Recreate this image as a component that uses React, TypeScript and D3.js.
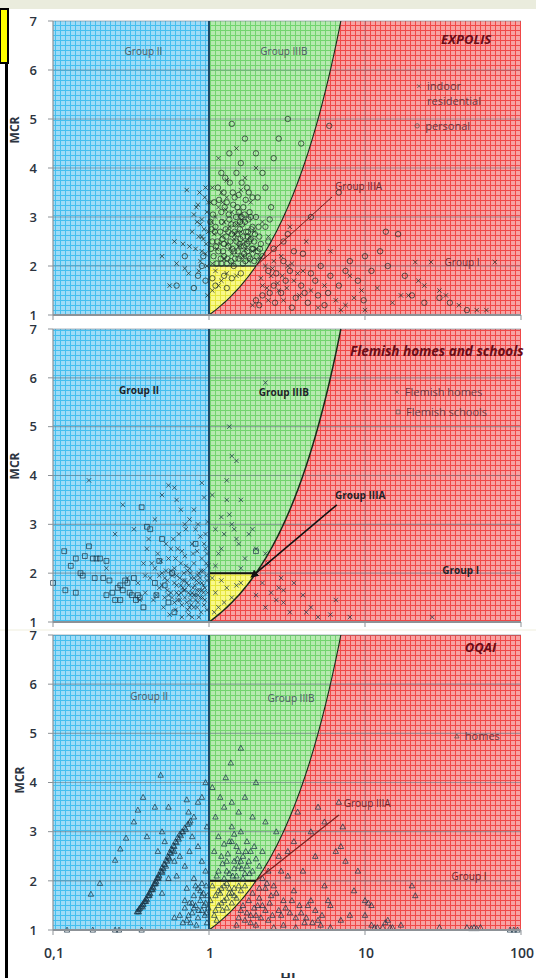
import React from 'react';
import * as d3 from 'd3';

type Pt = [number, number];

// axis ticks
const xTicks = [0.1, 1, 10, 100];
const xTickLabels = ['0,1', '1', '10', '100'];
const yTicks = [1, 2, 3, 4, 5, 6, 7];

// EXPOLIS (HI, MCR)
const expolisIndoor: Pt[] = [
  [0.72, 3.55], [0.85, 3.25], [0.83, 3.2], [0.8, 3.05], [0.9, 2.95], [0.88, 2.85], [0.93, 2.75], [0.6, 2.5], [0.68, 2.45],
  [0.75, 2.4], [0.82, 2.35], [0.9, 2.3], [0.95, 2.25], [0.62, 2.05], [0.7, 1.95], [0.74, 1.85], [0.56, 1.6], [0.86, 2.6],
  [0.92, 2.55], [0.97, 3.1], [0.97, 2.0], [0.98, 1.4], [0.78, 2.7], [0.88, 2.1], [0.5, 2.2], [0.94, 3.4], [0.86, 1.9],
  [1.05, 3.6], [1.2, 3.5], [1.3, 3.4], [1.15, 3.2], [1.4, 3.1], [1.1, 3.0], [1.25, 2.9], [1.5, 2.85], [1.35, 2.8],
  [1.6, 2.7], [1.08, 2.65], [1.2, 2.6], [1.45, 2.55], [1.7, 2.5], [1.3, 2.45], [1.55, 2.4], [1.12, 2.35], [1.9, 2.3],
  [1.4, 2.25], [1.65, 2.2], [1.25, 2.15], [1.8, 2.1], [1.05, 2.05], [2.1, 2.15], [1.5, 4.4], [2.0, 4.0], [1.7, 3.8],
  [1.85, 3.3], [2.2, 2.9], [1.3, 3.75], [2.4, 2.6], [1.15, 4.2], [1.6, 3.55], [1.95, 2.7],
  [1.04, 2.9], [1.18, 2.45], [1.28, 3.15], [1.37, 2.35], [1.47, 2.65], [1.58, 3.05], [1.72, 2.35], [1.83, 2.6],
  [2.0, 2.35], [1.22, 3.3], [1.42, 2.05], [1.62, 2.95], [1.02, 3.3], [0.99, 2.7], [0.96, 2.45], [0.9, 2.6], [0.84, 2.9],
  [0.99, 3.3], [0.95, 3.6], [0.87, 3.5],
  [1.1, 1.9], [1.3, 1.85], [1.2, 1.7], [1.5, 1.8], [1.05, 1.5], [1.15, 1.6],
  [2.3, 2.0], [2.6, 2.1], [2.9, 2.2], [2.5, 1.8], [3.2, 2.0], [3.5, 1.7], [2.2, 1.6], [4.0, 1.9], [2.8, 1.5], [4.5, 1.5],
  [3.0, 1.3], [5.5, 1.6], [6.5, 1.3], [7.5, 1.2], [5.0, 1.15], [8.5, 1.35], [9.5, 1.5], [12, 1.55], [15, 1.25], [17, 1.4],
  [19, 1.4], [21, 2.08], [26.5, 2.08], [68, 2.08], [22, 1.7], [24, 1.6], [30, 1.5], [33, 1.4], [40, 1.2], [52, 1.1],
  [60, 1.1], [10, 1.1], [7, 1.1], [3.8, 1.4], [2.4, 1.3], [1.9, 1.2], [6, 2.3], [8, 1.8], [4.2, 2.5], [3.3, 2.8],
  [2.15, 1.75], [2.35, 1.55], [2.55, 1.95], [2.75, 1.65], [2.95, 1.8], [3.15, 1.55], [3.4, 2.05], [3.7, 1.85]
];
const expolisPersonal: Pt[] = [
  [1.05, 2.5], [1.1, 2.8], [1.15, 2.3], [1.2, 3.1], [1.22, 2.55], [1.25, 2.2], [1.28, 2.75], [1.3, 3.3], [1.33, 2.4],
  [1.35, 2.95], [1.38, 2.1], [1.4, 2.65], [1.42, 3.5], [1.45, 2.3], [1.48, 2.85], [1.5, 2.5], [1.52, 3.2], [1.55, 2.15],
  [1.58, 2.75], [1.6, 2.4], [1.62, 3.0], [1.65, 2.6], [1.68, 2.25], [1.7, 2.9], [1.72, 3.35], [1.75, 2.45], [1.78, 2.7],
  [1.8, 2.2], [1.82, 3.1], [1.85, 2.55], [1.88, 2.35], [1.9, 2.8], [1.95, 2.5], [2.0, 3.0], [2.05, 2.3], [2.1, 2.6],
  [2.15, 2.45], [2.2, 2.2], [2.3, 2.8], [2.4, 2.5], [2.5, 3.2], [1.08, 3.3], [1.12, 2.05], [1.18, 2.7], [1.24, 3.5],
  [1.3, 2.05], [1.36, 3.7], [1.44, 2.0], [1.5, 3.9], [1.6, 4.1], [1.75, 3.6], [1.9, 3.4], [2.0, 4.3], [2.3, 3.6],
  [2.6, 4.2], [3.2, 5.0], [2.8, 4.6], [1.2, 3.9], [1.35, 4.3], [1.7, 4.6], [1.4, 4.9], [2.2, 3.9], [1.55, 3.45],
  [1.65, 2.05], [1.95, 2.1], [2.45, 2.95], [1.02, 2.9], [1.07, 2.2], [1.58, 2.9], [1.85, 3.0], [1.25, 2.45], [1.46, 2.7],
  [1.66, 3.2], [5.9, 4.86], [3.9, 4.5],
  [1.03, 2.35], [1.06, 3.05], [1.09, 2.7], [1.13, 2.5], [1.16, 3.35], [1.19, 2.15], [1.21, 2.9], [1.23, 2.3],
  [1.26, 3.2], [1.29, 2.6], [1.31, 2.15], [1.34, 3.05], [1.37, 2.5], [1.39, 2.85], [1.41, 2.35], [1.43, 3.25],
  [1.47, 2.15], [1.49, 3.0], [1.51, 2.65], [1.53, 2.3], [1.56, 3.1], [1.59, 2.55], [1.61, 2.2], [1.63, 2.85],
  [1.67, 2.4], [1.69, 3.05], [1.71, 2.1], [1.73, 2.7], [1.76, 2.3], [1.79, 2.95], [1.81, 2.5], [1.84, 2.15],
  [1.87, 2.75], [1.92, 2.35], [1.97, 2.65], [2.02, 2.2], [2.08, 2.8], [2.12, 2.35], [1.14, 3.6], [1.27, 3.8],
  [1.46, 3.4], [1.62, 3.7], [1.8, 3.5], [2.05, 3.4], [1.11, 2.4], [1.33, 2.7], [1.57, 2.45], [1.77, 2.6], [1.04, 2.75],
  [1.2, 2.05],
  [0.62, 1.6], [0.8, 1.55], [0.85, 1.8], [0.9, 2.0], [0.95, 1.7], [0.92, 2.2], [0.7, 2.2],
  [1.1, 1.6], [1.4, 1.75], [1.25, 1.8], [1.6, 1.85], [1.05, 1.75], [1.3, 1.55],
  [2.4, 1.9], [2.7, 1.85], [3.0, 2.1], [3.5, 2.3], [3.3, 1.9], [2.6, 1.6], [3.9, 1.6], [4.5, 1.85], [5.2, 2.0],
  [4.0, 2.25], [2.9, 1.45], [3.6, 1.35], [4.3, 1.25], [5.0, 1.4], [6.0, 1.8], [6.8, 1.6], [7.5, 1.9], [8.0, 2.1],
  [9.0, 1.7], [10, 2.2], [11, 1.9], [12.5, 2.3], [13.6, 2.7], [16.3, 2.65], [14, 2.0], [18, 1.8], [20, 1.4], [30, 1.35],
  [35, 1.25], [45, 1.1], [3.0, 2.5], [2.6, 2.35], [3.2, 2.65], [4.5, 3.0], [6.8, 3.5], [5.5, 1.2], [2.2, 1.4],
  [2.0, 1.3], [9.8, 1.3], [24, 1.25], [2.45, 1.45], [2.65, 1.25], [3.1, 1.7], [4.8, 1.7], [5.8, 1.45], [4.1, 1.45],
  [3.4, 1.15], [2.1, 1.2]
];

// Flemish homes and schools
const flemishHomes: Pt[] = [
  [0.17, 3.9], [0.28, 3.4], [0.33, 2.9], [0.4, 2.5], [0.45, 3.1], [0.5, 3.6], [0.55, 3.8], [0.6, 3.75], [0.62, 3.5],
  [0.66, 3.3], [0.7, 3.0], [0.75, 3.1], [0.8, 3.3], [0.85, 3.0], [0.9, 3.85], [0.93, 3.55], [0.95, 2.8], [0.98, 3.05],
  [0.42, 1.9], [0.45, 2.1], [0.48, 1.7], [0.5, 2.0], [0.52, 1.5], [0.54, 1.85], [0.55, 2.3], [0.57, 1.6], [0.58, 1.95],
  [0.6, 1.4], [0.6, 2.1], [0.62, 1.75], [0.63, 2.5], [0.64, 1.55], [0.65, 1.9], [0.66, 2.2], [0.67, 1.35], [0.68, 1.7],
  [0.69, 2.0], [0.7, 1.5], [0.7, 2.35], [0.72, 1.8], [0.73, 1.25], [0.74, 1.6], [0.75, 2.1], [0.76, 1.45], [0.77, 1.9],
  [0.78, 2.6], [0.79, 1.7], [0.8, 1.3], [0.8, 2.2], [0.82, 1.55], [0.83, 1.85], [0.84, 2.45], [0.85, 1.4], [0.86, 2.0],
  [0.87, 1.65], [0.88, 2.75], [0.89, 1.2], [0.9, 1.8], [0.9, 2.3], [0.91, 1.5], [0.92, 2.05], [0.93, 1.35], [0.94, 1.7],
  [0.95, 2.5], [0.96, 1.95], [0.97, 1.25], [0.98, 1.6], [0.99, 2.15], [0.44, 1.45], [0.47, 2.4], [0.51, 1.3],
  [0.53, 2.6], [0.56, 1.15], [0.59, 2.7], [0.61, 1.25], [0.64, 2.8], [0.67, 1.1], [0.71, 2.9], [0.74, 1.15], [0.78, 1.1],
  [0.82, 2.9], [0.86, 1.1], [0.35, 1.8], [0.38, 2.2], [0.3, 1.9], [0.36, 1.45], [0.25, 2.8], [0.22, 2.1], [0.39, 1.6],
  [0.41, 2.7], [0.46, 1.55], [0.49, 2.25], [0.57, 2.05], [0.63, 1.45], [0.69, 1.65], [0.73, 2.05], [0.77, 1.35],
  [0.81, 1.75], [0.85, 1.95], [0.88, 1.5], [0.92, 1.75], [0.96, 2.2], [0.66, 1.6], [0.6, 1.8], [0.54, 1.65], [0.5, 1.75],
  [0.76, 1.55], [0.84, 1.65],
  [0.58, 1.5], [0.62, 1.6], [0.66, 1.75], [0.7, 1.65], [0.74, 1.75], [0.78, 1.6], [0.82, 1.45], [0.86, 1.8], [0.9, 1.65],
  [0.94, 1.45], [0.62, 1.95], [0.68, 1.85], [0.72, 1.4], [0.76, 2.0], [0.8, 1.9], [0.84, 1.3], [0.88, 1.9], [0.92, 1.6],
  [0.55, 1.55], [0.65, 1.45], [0.7, 1.85], [0.75, 1.3], [0.8, 1.55], [0.85, 1.55], [0.89, 2.05], [0.71, 2.15],
  [0.61, 2.3], [0.53, 2.05], [0.48, 1.95], [0.43, 2.2], [0.39, 1.95], [0.97, 1.85], [0.97, 2.4], [0.93, 2.6],
  [0.79, 2.4], [0.67, 2.45], [0.57, 2.5], [0.52, 1.9],
  [1.05, 3.6], [1.1, 2.9], [1.15, 2.4], [1.2, 2.5], [1.25, 2.8], [1.3, 3.9], [1.35, 3.2], [1.4, 3.0], [1.45, 2.9],
  [1.5, 2.7], [1.55, 2.6], [1.6, 3.5], [1.7, 2.3], [1.8, 2.8], [1.9, 2.9], [2.0, 2.5], [2.3, 2.4], [2.4, 2.2],
  [1.35, 5.0], [1.4, 4.4], [2.3, 5.9], [1.1, 2.15], [1.6, 2.1], [1.2, 3.15], [1.5, 4.3], [1.3, 3.5],
  [1.05, 1.9], [1.2, 1.85], [1.3, 1.7], [1.1, 1.6], [1.4, 1.5], [1.25, 1.4], [1.15, 1.3], [1.5, 1.75], [1.08, 1.2],
  [1.6, 1.8],
  [2.2, 1.8], [2.5, 1.6], [2.8, 1.7], [3.0, 1.4], [2.3, 1.3], [3.3, 1.2], [3.5, 1.8], [2.7, 1.45], [4.0, 1.55],
  [4.5, 1.3], [5.0, 1.1], [6.0, 1.15], [8.0, 1.1], [6.5, 1.45], [3.0, 1.65], [2.0, 1.55], [27, 1.1], [2.9, 1.9], [4.2, 1.2]
];
const flemishSchools: Pt[] = [
  [0.118, 2.45], [0.12, 1.65], [0.13, 2.15], [0.14, 2.3], [0.15, 2.0], [0.155, 1.95], [0.16, 2.35], [0.17, 2.55],
  [0.18, 2.3], [0.19, 2.3], [0.2, 2.3], [0.21, 1.9], [0.22, 2.25], [0.24, 1.6], [0.25, 1.45], [0.26, 1.7], [0.27, 1.75],
  [0.28, 1.65], [0.3, 1.8], [0.31, 1.6], [0.32, 1.55], [0.33, 1.9], [0.35, 1.55], [0.36, 1.5], [0.38, 1.3], [0.4, 2.95],
  [0.42, 2.9], [0.45, 1.8], [0.48, 2.25], [0.5, 2.7], [0.52, 1.75], [0.55, 1.4], [0.6, 1.2], [0.58, 2.0], [0.14, 1.6],
  [0.185, 1.9], [0.23, 1.85], [0.29, 1.85], [0.27, 1.45], [0.22, 1.55], [0.34, 1.45], [0.37, 3.35], [0.46, 1.55],
  [0.82, 2.6], [0.1, 1.8], [2.0, 2.45]
];

// OQAI
const oqaiHomes: Pt[] = [
  [0.345, 1.37], [0.355, 1.42], [0.365, 1.47], [0.375, 1.53], [0.385, 1.58], [0.395, 1.64], [0.405, 1.7], [0.415, 1.76],
  [0.425, 1.82], [0.435, 1.88], [0.445, 1.94], [0.455, 2.0], [0.465, 2.06], [0.475, 2.12], [0.49, 2.2], [0.5, 2.27],
  [0.515, 2.34], [0.53, 2.42], [0.545, 2.5], [0.56, 2.58], [0.575, 2.65], [0.59, 2.72], [0.61, 2.8], [0.63, 2.88],
  [0.65, 2.95], [0.67, 3.0], [0.7, 3.08], [0.73, 3.15], [0.76, 3.22], [0.8, 3.3], [0.36, 1.44], [0.38, 1.52],
  [0.4, 1.62], [0.42, 1.74], [0.44, 1.86], [0.46, 1.98], [0.48, 2.1], [0.51, 2.25], [0.54, 2.4], [0.57, 2.56],
  [0.6, 2.7], [0.64, 2.85], [0.68, 3.0],
  [0.35, 1.38], [0.37, 1.49], [0.39, 1.59], [0.41, 1.71], [0.43, 1.83], [0.45, 1.95], [0.47, 2.07], [0.5, 2.2],
  [0.52, 2.33], [0.55, 2.47], [0.58, 2.62], [0.62, 2.78], [0.66, 2.92], [0.71, 3.05], [0.75, 3.18], [0.355, 1.37],
  [0.375, 1.47], [0.395, 1.58], [0.415, 1.7], [0.435, 1.82], [0.455, 1.94], [0.475, 2.05], [0.5, 2.17], [0.53, 2.3],
  [0.56, 2.45], [0.6, 2.6],
  [0.175, 1.73], [0.2, 1.95], [0.25, 2.42], [0.27, 2.65], [0.294, 2.87], [0.33, 3.2], [0.35, 3.44], [0.378, 3.7],
  [0.49, 4.15],
  [0.55, 3.5], [0.45, 3.5], [0.72, 3.65], [0.74, 3.4], [0.85, 3.6], [0.9, 3.7], [0.95, 4.0], [0.97, 3.1], [0.5, 3.0],
  [0.4, 2.9], [0.52, 2.8], [0.47, 2.6], [0.6, 2.4], [0.65, 2.5], [0.7, 2.3], [0.75, 2.6], [0.78, 2.9], [0.85, 2.7],
  [0.9, 2.4], [0.95, 2.2], [0.62, 2.1], [0.55, 2.05], [0.5, 1.75], [0.72, 1.85], [0.8, 2.05],
  [0.6, 1.25], [0.65, 1.3], [0.7, 1.45], [0.72, 1.2], [0.75, 1.55], [0.78, 1.35], [0.8, 1.7], [0.82, 1.5], [0.85, 1.25],
  [0.85, 1.85], [0.88, 1.6], [0.9, 1.4], [0.9, 1.95], [0.92, 1.75], [0.94, 1.3], [0.95, 1.55], [0.96, 1.9],
  [0.97, 1.15], [0.98, 1.7], [0.99, 1.45], [0.76, 1.15], [0.83, 1.1], [0.68, 1.15],
  [0.7, 1.6], [0.74, 1.3], [0.8, 1.45], [0.86, 1.4], [0.9, 1.7], [0.93, 1.5], [0.96, 1.35], [0.88, 1.8], [0.82, 1.9],
  [0.78, 1.55],
  [0.123, 1], [0.18, 1], [0.25, 1], [0.265, 1], [0.37, 1],
  [1.05, 3.9], [1.1, 3.3], [1.15, 2.9], [1.2, 2.5], [1.25, 3.5], [1.3, 2.2], [1.35, 2.8], [1.4, 3.1], [1.45, 2.4],
  [1.5, 2.7], [1.55, 2.3], [1.6, 3.0], [1.65, 2.5], [1.7, 2.15], [1.75, 2.8], [1.8, 2.4], [1.85, 2.6], [1.9, 2.2],
  [2.0, 2.45], [2.1, 2.3], [2.2, 2.6], [1.12, 2.1], [1.22, 2.35], [1.32, 2.55], [1.42, 2.1], [1.52, 2.45], [1.62, 2.25],
  [1.72, 2.6], [1.82, 2.15], [1.08, 2.6], [1.18, 3.7], [1.28, 4.1], [1.38, 4.4], [1.6, 4.7], [1.7, 3.7], [2.0, 4.0],
  [2.3, 3.2], [1.4, 3.6], [1.55, 3.4], [1.9, 3.3], [2.4, 2.2], [1.25, 2.75], [1.45, 2.95], [1.65, 2.05], [1.95, 2.7],
  [1.15, 2.2], [1.3, 2.4], [1.45, 2.25], [1.6, 2.4], [1.75, 2.3], [1.35, 2.15], [1.5, 2.1], [1.25, 2.05], [1.55, 2.6],
  [1.4, 2.8],
  [1.05, 1.9], [1.1, 1.7], [1.15, 1.5], [1.2, 1.85], [1.25, 1.6], [1.3, 1.95], [1.35, 1.75], [1.4, 1.55], [1.45, 1.85],
  [1.5, 1.65], [1.55, 1.9], [1.6, 1.8], [1.7, 1.9], [1.08, 1.3], [1.12, 1.2], [1.22, 1.4], [1.02, 1.6], [1.3, 1.45],
  [1.18, 1.75], [1.15, 1.8], [1.25, 1.9], [1.35, 1.85], [1.45, 1.7], [1.1, 1.4], [1.2, 1.55], [1.3, 1.65], [1.4, 1.75],
  [1.6, 1.4], [1.8, 1.6], [2.0, 1.3], [2.2, 1.5], [2.4, 1.2], [2.5, 1.7], [2.6, 1.9], [2.8, 1.4], [3.0, 1.6], [3.2, 2.1],
  [3.3, 1.35], [3.5, 1.8], [3.8, 1.5], [4.0, 2.2], [4.2, 1.25], [4.5, 1.6], [4.8, 1.4], [5.0, 1.2], [5.5, 1.9],
  [5.2, 1.1], [6.0, 1.5], [6.5, 2.6], [7.0, 2.7], [7.5, 2.4], [7.2, 3.1], [6.8, 3.6], [8.0, 1.3], [8.5, 1.8], [9.0, 2.2],
  [10, 1.6], [11, 1.1], [12, 1.05], [13, 1.05], [14, 1.2], [15, 1.05], [17, 1.1], [20, 1.9], [30, 1.05], [45, 1.05],
  [50, 1.05], [55, 1.05], [90, 1.0], [95, 1.0], [4.5, 3.0], [3.7, 3.4], [5.5, 3.2], [4.8, 2.5], [3.5, 2.8], [2.8, 2.5],
  [2.9, 2.2], [3.2, 2.6], [2.7, 3.0], [2.2, 2.05], [2.3, 1.85], [1.9, 1.75], [2.0, 1.1], [2.6, 1.05], [3.0, 1.1],
  [3.6, 1.05], [4.1, 1.15], [1.7, 1.2], [1.5, 1.1], [6, 1.05], [7, 1.2], [10, 1.3], [5, 3.5],
  [1.55, 1.25], [1.65, 1.5], [1.75, 1.35], [1.85, 1.15], [1.95, 1.45], [2.1, 1.65], [2.15, 1.25], [2.3, 1.4],
  [2.45, 1.55], [2.55, 1.3], [2.7, 1.75], [2.9, 1.3], [3.1, 1.45], [3.4, 1.6], [3.6, 1.25], [3.9, 1.35], [4.3, 1.5],
  [4.6, 1.15], [5.3, 1.3], [5.8, 1.6], [2.35, 1.95], [2.1, 1.85], [1.85, 1.3], [2.05, 1.5], [11.5, 1.05], [13.5, 1.15],
  [14.5, 1.05], [10.5, 1.55], [11, 1.5], [21, 1.7], [48, 1.03], [52, 1.03], [85, 1.0]
];

const groupNames = ['Group II', 'Group IIIB', 'Group IIIA', 'Group I'];

const panels = [
  {
    id: 'p1', top: 21, bottom: 315, title: 'EXPOLIS', titleAt: [44.5, 6.63], titleAnchor: 'middle', bold: false,
    groupAt: [[0.38, 6.37], [3.02, 6.37], [6.43, 3.63], [41.9, 2.08]] as Pt[],
    arrowEnd: [6.15, 3.41] as Pt, arrowColor: '#7a2020', arrowWidth: 1, arrowHead: false,
    series: [{ data: expolisIndoor, shape: 'cross' }, { data: expolisPersonal, shape: 'circle' }],
    legend: [
      { shape: 'cross', at: [22.2, 5.67] as Pt, lines: ['indoor', 'residential'] },
      { shape: 'circle', at: [21.6, 4.86] as Pt, lines: ['personal'] }
    ],
    yLabel: [15, 130]
  },
  {
    id: 'p2', top: 329, bottom: 622, title: 'Flemish homes and schools', titleAt: [104, 6.55], titleAnchor: 'end', bold: true,
    groupAt: [[0.356, 5.75], [3.02, 5.69], [6.43, 3.6], [41, 2.05]] as Pt[],
    arrowEnd: [6.6, 3.4] as Pt, arrowColor: '#111', arrowWidth: 1.6, arrowHead: true,
    series: [{ data: flemishHomes, shape: 'cross' }, { data: flemishSchools, shape: 'square' }],
    legend: [
      { shape: 'cross', at: [16.0, 5.71] as Pt, lines: ['Flemish homes'] },
      { shape: 'square', at: [16.3, 5.3] as Pt, lines: ['Flemish schools'] }
    ],
    yLabel: [15, 466]
  },
  {
    id: 'p3', top: 635, bottom: 930, title: 'OQAI', titleAt: [55, 6.75], titleAnchor: 'middle', bold: false,
    groupAt: [[0.413, 5.74], [3.35, 5.7], [7.3, 3.58], [46.4, 2.08]] as Pt[],
    arrowEnd: [6.8, 3.34] as Pt, arrowColor: '#7a2020', arrowWidth: 1.2, arrowHead: false,
    series: [{ data: oqaiHomes, shape: 'triangle' }],
    legend: [{ shape: 'triangle', at: [38.8, 4.94] as Pt, lines: ['homes'] }],
    yLabel: [20, 780]
  }
];

const markerPath = (shape: string) => {
  switch (shape) {
    case 'cross': return 'M-2.2,-2.2L2.2,2.2M-2.2,2.2L2.2,-2.2';
    case 'square': return 'M-2.4,-2.4H2.4V2.4H-2.4Z';
    case 'triangle': return 'M0,-2.9L2.7,2.1H-2.7Z';
    default: return 'M2.7,0A2.7,2.7 0 1,1 -2.7,0A2.7,2.7 0 1,1 2.7,0';
  }
};

const fills = [
  { id: 'gBlue', base: '#9fdcf7', line: '#44bfef' },
  { id: 'gGreen', base: '#b6eab0', line: '#72d46f' },
  { id: 'gRed', base: '#f8a2a2', line: '#f04848' },
  { id: 'gYellow', base: '#f9f98a', line: '#e4e43c' }
];

const FONT = '"Open Sans", "DejaVu Sans", sans-serif';

function Panel({ p }: { p: typeof panels[number] }) {
  const x = d3.scaleLog().domain([0.1, 100]).range([53, 521]);
  const y = d3.scaleLinear().domain([1, 7]).range([p.bottom, p.top]);
  const line = d3.line<Pt>().x(d => x(d[0])).y(d => y(d[1]));
  const curve = d3.range(1, 7.0001, 0.05).map(v => [v, v] as Pt);
  const curveUp2 = curve.filter(d => d[0] <= 2.0001);
  const curveFrom2 = curve.filter(d => d[0] >= 1.9999);

  const blue = line([[0.1, 1], [0.1, 7], [1, 7], [1, 1]]) + 'Z';
  const red = line([...curve, [100, 7], [100, 1]]) + 'Z';
  const green = line([[1, 2], [1, 7], ...curveFrom2.slice().reverse()]) + 'Z';
  const yellow = line([[1, 1], [1, 2], ...curveUp2.slice().reverse()]) + 'Z';

  const labelFill = p.bold ? '#1e2328' : '#4e5964';
  const titleColor = '#6a0d17';
  const stroke = p.id === 'p1' ? '#1f2b27' : '#1a3547';

  return (
    <g>
      <path d={blue} fill="url(#gBlue)" />
      <path d={red} fill="url(#gRed)" />
      <path d={green} fill="url(#gGreen)" />
      <path d={yellow} fill="url(#gYellow)" />
      {/* major gridlines */}
      {yTicks.slice(1).map(t => (
        <line key={t} x1={x(0.1)} x2={x(100)} y1={y(t)} y2={y(t)} stroke="#6b7a86" strokeOpacity={0.55} strokeWidth={1.2} />
      ))}
      <line x1={x(10)} x2={x(10)} y1={y(1)} y2={y(7)} stroke="#6b7a86" strokeOpacity={0.45} strokeWidth={1} />
      {/* boundaries */}
      <path d={line(curve) || ''} fill="none" stroke="#1a2a1a" strokeWidth={p.bold ? 1.5 : 1.1} />
      <line x1={x(1)} x2={x(2)} y1={y(2)} y2={y(2)} stroke="#111" strokeWidth={p.id === 'p1' ? 1 : 2} />
      <line x1={x(1)} x2={x(1)} y1={y(1)} y2={y(7)} stroke="#1b4b6b" strokeWidth={2} />
      {/* points */}
      {p.series.map((s, si) => (
        <g key={si} fill="none" stroke={stroke} strokeOpacity={0.85} strokeWidth={0.85}>
          {s.data.map((d, i) => (
            <path key={i} d={markerPath(s.shape)} transform={`translate(${x(d[0])},${y(d[1])})`} />
          ))}
        </g>
      ))}
      {/* Group IIIA pointer */}
      <line x1={x(2)} y1={y(2)} x2={x(p.arrowEnd[0])} y2={y(p.arrowEnd[1])} stroke={p.arrowColor} strokeWidth={p.arrowWidth}
        markerStart={p.arrowHead ? 'url(#arrowHead)' : undefined} />
      {/* group labels */}
      {groupNames.map((g, i) => (
        <text key={g} x={x(p.groupAt[i][0])} y={y(p.groupAt[i][1])} dy="0.35em" textAnchor={i === 2 ? 'start' : 'middle'}
          fontFamily={FONT} fontSize={10} fontWeight={p.bold ? 700 : 400} fill={i >= 2 ? (p.bold ? '#1e2328' : '#6b2a30') : labelFill}>
          {g}
        </text>
      ))}
      {/* legend */}
      {p.legend.map((l, i) => (
        <g key={i}>
          <path d={markerPath(l.shape)} transform={`translate(${x(l.at[0])},${y(l.at[1])}) scale(0.8)`} fill="none" stroke="#555" strokeWidth={0.9} />
          {l.lines.map((t, j) => (
            <text key={j} x={x(l.at[0]) + 8} y={y(l.at[1]) + j * 15} dy="0.35em" fontFamily={FONT} fontSize={11} fill="#6a3840">{t}</text>
          ))}
        </g>
      ))}
      <text x={x(p.titleAt[0])} y={y(p.titleAt[1])} dy="0.35em" textAnchor={p.titleAnchor} fontFamily={FONT} fontSize={p.id === 'p2' ? 13.5 : 13}
        fontWeight={700} fontStyle="italic" fill={titleColor}>{p.title}</text>
      {/* axes */}
      <line x1={x(0.1)} x2={x(0.1)} y1={y(1)} y2={y(7)} stroke="#8d9297" strokeWidth={1.2} />
      <line x1={x(0.1)} x2={x(100)} y1={y(1)} y2={y(1)} stroke="#8d9297" strokeWidth={2} />
      {yTicks.map(t => (
        <g key={t}>
          <line x1={x(0.1) - 5} x2={x(0.1)} y1={y(t)} y2={y(t)} stroke="#8d9297" strokeWidth={1} />
          <text x={37} y={y(t)} dy="0.36em" textAnchor="end" fontFamily={FONT} fontSize={13} fontWeight={600} fill="#2c3440">{t}</text>
        </g>
      ))}
      {xTicks.map(t => (
        <line key={t} x1={x(t)} x2={x(t)} y1={y(1)} y2={y(1) + 5} stroke="#8d9297" strokeWidth={1} />
      ))}
      <text transform={`translate(${p.yLabel[0]},${p.yLabel[1]}) rotate(-90)`} textAnchor="middle" dy="0.35em" fontFamily={FONT}
        fontSize={12} fontWeight={700} fill="#2c3440">MCR</text>
    </g>
  );
}

export default function App() {
  const x = d3.scaleLog().domain([0.1, 100]).range([53, 521]);
  return (
    <svg width={536} height={978} style={{ position: 'absolute', left: 0, top: 0, background: '#fff' }}>
      <defs>
        {fills.map(f => (
          <pattern key={f.id} id={f.id} width={5} height={5} patternUnits="userSpaceOnUse">
            <rect width={5} height={5} fill={f.base} />
            <path d="M0,0.5H5M0.5,0V5" stroke={f.line} strokeWidth={1} />
          </pattern>
        ))}
        <marker id="arrowHead" viewBox="0 0 10 10" refX={1} refY={5} markerWidth={5} markerHeight={5} orient="auto-start-reverse">
          <path d="M0,0L10,5L0,10Z" fill="#111" />
        </marker>
      </defs>
      <rect x={0} y={0} width={536} height={978} fill="#fff" />
      <rect x={0} y={0} width={536} height={9} fill="#eaecdd" />
      <line x1={0} x2={536} y1={630} y2={630} stroke="#efeedd" strokeWidth={1} />
      {panels.map(p => <Panel key={p.id} p={p} />)}
      {xTicks.map((t, i) => (
        <text key={t} x={x(t) + 1} y={958} textAnchor="middle" fontFamily={FONT} fontSize={14} fontWeight={600} fill="#2c3440">{xTickLabels[i]}</text>
      ))}
      <text x={288} y={983} textAnchor="middle" fontFamily={FONT} fontSize={14} fontWeight={700} fill="#2c3440">HI</text>
      {/* left frame */}
      <rect x={0} y={9} width={8} height={54} fill="#ffff00" stroke="#000" strokeWidth={2} />
      <rect x={5} y={63} width={3} height={915} fill="#000" />
    </svg>
  );
}
